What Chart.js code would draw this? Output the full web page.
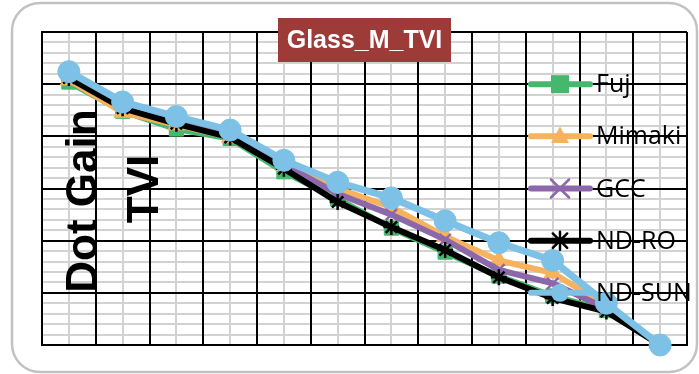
<!DOCTYPE html>
<html>
<head>
<meta charset="utf-8">
<script src="https://cdn.jsdelivr.net/npm/chart.js@4/dist/chart.umd.min.js"></script>
<style>
  html, body { margin: 0; padding: 0; background: #ffffff; }
  #wrap { width: 699px; height: 374px; }
</style>
</head>
<body>
<div id="wrap"><canvas id="c" width="699" height="374"></canvas></div>
<script>
// Patch numbers along the horizontal axis (labels are not shown)
const patches = ['1', '2', '3', '4', '5', '6', '7', '8', '9', '10', '11', '12'];

// Dot gain (TVI) per printer
const fuj    = [25.2, 22.4, 20.7, 19.8, 16.6, 14.0, 11.2, 8.9, 6.6, 4.7, 3.3, 0];
const mimaki = [25.4, 22.3, 21.1, 19.9, 17.2, 15.0, 13.2, 10.4, 8.1, 6.9, 3.8, 0];
const gcc    = [25.8, 22.9, 21.4, 20.2, 17.3, 14.5, 12.5, 10.1, 7.2, 5.9, 3.5, 0];
const ndRo   = [25.6, 22.7, 21.2, 19.9, 16.9, 13.7, 11.3, 9.1, 6.5, 4.5, 3.2, 0];
const ndSun  = [26.2, 23.3, 21.9, 20.6, 17.7, 15.6, 14.1, 11.9, 9.8, 8.1, 4.0, 0];

const seriesNames = ['Fuj', 'Mimaki', 'GCC', 'ND-RO', 'ND-SUN'];
const chartTitle = 'Glass_M_TVI';
const axisTitle = ['Dot Gain', 'TVI'];

const COLORS = ['#45b86d', '#f6b25c', '#8c68ab', '#000000', '#7dc2e6'];
const STYLES = ['rect', 'triangle', 'crossRot', 'star', 'circle'];
const RADII  = [10, 10, 8, 8, 11];
const WIDTHS = [6, 6, 6, 6, 7];

function makeSet(i, values, order) {
  return {
    label: seriesNames[i],
    data: values,
    borderColor: COLORS[i],
    backgroundColor: COLORS[i],
    borderWidth: WIDTHS[i],
    pointStyle: STYLES[i],
    pointRadius: RADII[i],
    pointBorderWidth: (STYLES[i] === 'crossRot' || STYLES[i] === 'star') ? 2.5 : 1,
    pointBackgroundColor: COLORS[i],
    pointBorderColor: COLORS[i],
    tension: 0,
    order: order,
    clip: false
  };
}

function markerPath(ctx, style, x, y, r, color) {
  ctx.save();
  ctx.fillStyle = color;
  ctx.strokeStyle = color;
  ctx.lineWidth = 2.5;
  ctx.beginPath();
  if (style === 'rect') {
    ctx.fillRect(x - r, y - r, 2 * r, 2 * r);
  } else if (style === 'triangle') {
    ctx.moveTo(x, y - r * 1.1);
    ctx.lineTo(x + r, y + r * 0.75);
    ctx.lineTo(x - r, y + r * 0.75);
    ctx.closePath();
    ctx.fill();
  } else if (style === 'crossRot') {
    ctx.moveTo(x - r, y - r); ctx.lineTo(x + r, y + r);
    ctx.moveTo(x + r, y - r); ctx.lineTo(x - r, y + r);
    ctx.stroke();
  } else if (style === 'star') {
    ctx.moveTo(x - r * 0.8, y - r * 0.8); ctx.lineTo(x + r * 0.8, y + r * 0.8);
    ctx.moveTo(x + r * 0.8, y - r * 0.8); ctx.lineTo(x - r * 0.8, y + r * 0.8);
    ctx.moveTo(x, y - r); ctx.lineTo(x, y + r);
    ctx.stroke();
  } else {
    ctx.arc(x, y, r, 0, Math.PI * 2);
    ctx.fill();
  }
  ctx.restore();
}

// Rounded outer frame and white background
const framePlugin = {
  id: 'frame',
  beforeDraw(chart) {
    const ctx = chart.ctx;
    ctx.save();
    ctx.fillStyle = '#ffffff';
    ctx.fillRect(0, 0, chart.width, chart.height);
    const x0 = 12, y0 = 3, x1 = 697, y1 = 372, r = 28;
    ctx.beginPath();
    ctx.moveTo(x0 + r, y0);
    ctx.lineTo(x1 - r, y0);
    ctx.arcTo(x1, y0, x1, y0 + r, r);
    ctx.lineTo(x1, y1 - r);
    ctx.arcTo(x1, y1, x1 - r, y1, r);
    ctx.lineTo(x0 + r, y1);
    ctx.arcTo(x0, y1, x0, y1 - r, r);
    ctx.lineTo(x0, y0 + r);
    ctx.arcTo(x0, y0, x0 + r, y0, r);
    ctx.closePath();
    ctx.strokeStyle = '#c2c2c2';
    ctx.lineWidth = 2.5;
    ctx.stroke();
    ctx.restore();
  }
};

// Title box, rotated axis title and the in-plot legend
const decorPlugin = {
  id: 'decor',
  afterDraw(chart) {
    const ctx = chart.ctx;
    const yScale = chart.scales.y;

    // Title box
    ctx.save();
    ctx.fillStyle = '#9d3b38';
    ctx.fillRect(278, 18, 173, 44);
    ctx.fillStyle = '#ffffff';
    ctx.font = 'bold 25px "Liberation Sans", Arial, sans-serif';
    ctx.textAlign = 'center';
    ctx.textBaseline = 'middle';
    ctx.fillText(chartTitle, 364.5, 41);
    ctx.restore();

    // Axis title, two rotated lines
    ctx.save();
    ctx.fillStyle = '#000000';
    ctx.font = 'bold 44px "Liberation Sans", Arial, sans-serif';
    ctx.textAlign = 'center';
    ctx.textBaseline = 'alphabetic';
    ctx.save();
    ctx.translate(97, 201);
    ctx.rotate(-Math.PI / 2);
    ctx.fillText(axisTitle[0], 0, 0);
    ctx.restore();
    ctx.save();
    ctx.translate(158, 189);
    ctx.rotate(-Math.PI / 2);
    ctx.fillText(axisTitle[1], 0, 0);
    ctx.restore();
    ctx.restore();

    // Legend: one entry per major horizontal gridline
    const legendValues = [25, 20, 15, 10, 5];
    ctx.save();
    chart.data.datasets.forEach((ds, i) => {
      const y = yScale.getPixelForValue(legendValues[i]);
      ctx.strokeStyle = ds.borderColor;
      ctx.lineWidth = 6;
      ctx.lineCap = 'round';
      ctx.beginPath();
      ctx.moveTo(531, y);
      ctx.lineTo(590, y);
      ctx.stroke();
      markerPath(ctx, ds.pointStyle, 560, y, 9, ds.borderColor);
      ctx.fillStyle = '#000000';
      ctx.font = '25px "Open Sans", "Liberation Sans", sans-serif';
      ctx.textAlign = 'left';
      ctx.textBaseline = 'middle';
      ctx.fillText(ds.label, 596, y + 1);
    });
    ctx.restore();
  }
};

const gridGrey = '#d2d2d2';

new Chart(document.getElementById('c'), {
  type: 'line',
  data: {
    labels: patches,
    datasets: [
      makeSet(0, fuj, 5),
      makeSet(1, mimaki, 4),
      makeSet(2, gcc, 3),
      makeSet(3, ndRo, 2),
      makeSet(4, ndSun, 1)
    ]
  },
  options: {
    responsive: false,
    animation: false,
    events: [],
    layout: { padding: { left: 42, right: 12, top: 32, bottom: 29 } },
    plugins: {
      legend: { display: false },
      title: { display: false },
      tooltip: { enabled: false }
    },
    scales: {
      xMinor: {
        type: 'category',
        position: 'bottom',
        offset: true,
        ticks: { display: false },
        grid: { offset: false, color: gridGrey, lineWidth: 2, drawTicks: false, z: -1 },
        border: { display: false }
      },
      yMinor: {
        type: 'linear',
        position: 'left',
        min: 0, max: 30,
        ticks: { display: false, stepSize: 1 },
        grid: { color: gridGrey, lineWidth: 2, drawTicks: false, z: -1 },
        border: { display: false }
      },
      x: {
        type: 'category',
        position: 'bottom',
        offset: true,
        ticks: { display: false },
        grid: { offset: true, color: '#000000', lineWidth: 2, drawTicks: false },
        border: { display: true, color: '#000000', width: 2 }
      },
      y: {
        type: 'linear',
        position: 'left',
        min: 0, max: 30,
        ticks: { display: false, stepSize: 5 },
        grid: { color: '#000000', lineWidth: 2, drawTicks: false },
        border: { display: true, color: '#000000', width: 2 }
      }
    }
  },
  plugins: [framePlugin, decorPlugin]
});
</script>
</body>
</html>
